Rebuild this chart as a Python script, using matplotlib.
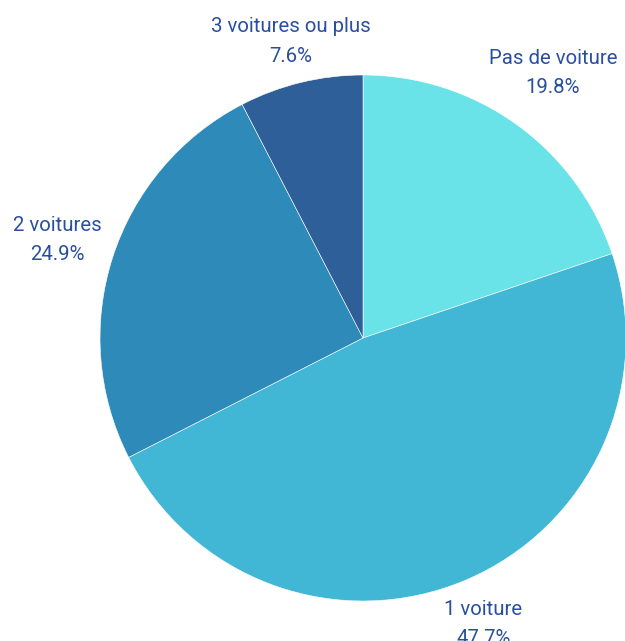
import numpy as np
import matplotlib.pyplot as plt

plt.rcParams['font.family'] = ['Roboto', 'DejaVu Sans']

labels = ['Pas de voiture', '1 voiture', '2 voitures', '3 voitures ou plus']
values = [19.8, 47.7, 24.9, 7.6]
colors = ['#69E3E8', '#42B7D5', '#2D8AB9', '#2E5F99']
text_color = '#2A4FA0'
# how far out each label sits (in pie radii)
label_dist = [1.24, 1.18, 1.22, 1.16]

fig = plt.figure(figsize=(6.25, 6.41), dpi=100)
ax = fig.add_axes([0.16, 0.0624, 0.8416, 0.8206])

wedges, _ = ax.pie(values, colors=colors, startangle=90, counterclock=False,
                   wedgeprops=dict(edgecolor='white', linewidth=0.4))

for w, lab, v, d in zip(wedges, labels, values, label_dist):
    ang = np.deg2rad((w.theta1 + w.theta2) / 2)
    ax.text(d * np.cos(ang), d * np.sin(ang), f'{lab}\n{v:.1f}%',
            ha='center', va='center', color=text_color, fontsize=14.7,
            linespacing=1.7, clip_on=False)

ax.set_xlim(-1, 1)
ax.set_ylim(-1, 1)
ax.set_aspect('equal')
ax.axis('off')

fig.savefig('out.png', dpi=100)
